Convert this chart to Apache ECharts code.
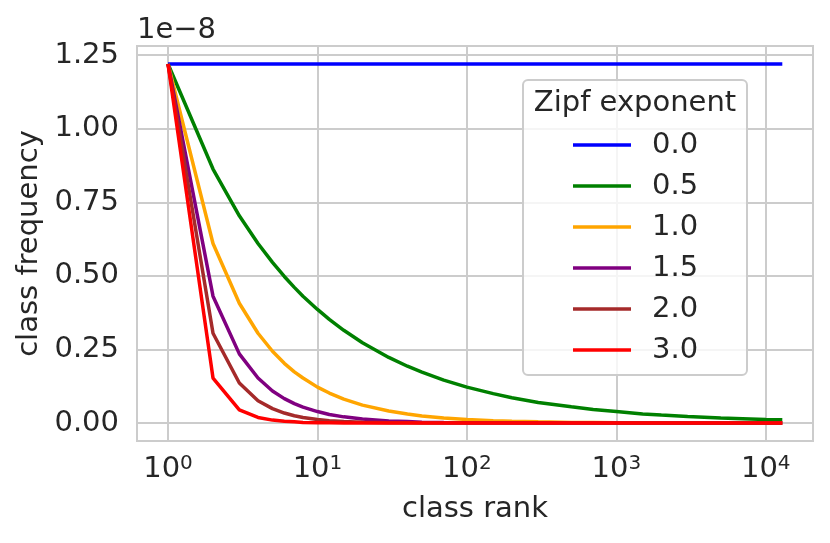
<!DOCTYPE html>
<html>
<head>
<meta charset="utf-8">
<script src="https://cdn.jsdelivr.net/npm/echarts@6/dist/echarts.min.js"></script>
<style>
html, body { margin: 0; padding: 0; background: #fff; }
#main { width: 830px; height: 543px; }
</style>
</head>
<body>
<div id="main"></div>
<script>
var myChart = echarts.init(document.getElementById('main'));

// class rank (x, log axis)
var ranks = [1, 2, 3, 4, 5, 6, 7, 8, 10, 12, 15, 20, 30, 40, 50, 70, 100, 150, 200, 300,
             500, 700, 1000, 1500, 2000, 3000, 5000, 7000, 10000, 12900];
// class frequency, in units of 1e-8 (one array per Zipf exponent)
var exp00 = [1.22, 1.22, 1.22, 1.22, 1.22, 1.22, 1.22, 1.22, 1.22, 1.22, 1.22, 1.22, 1.22, 1.22, 1.22,
             1.22, 1.22, 1.22, 1.22, 1.22, 1.22, 1.22, 1.22, 1.22, 1.22, 1.22, 1.22, 1.22, 1.22, 1.22];
var exp05 = [1.22, 0.863, 0.704, 0.61, 0.546, 0.498, 0.461, 0.431, 0.386, 0.352, 0.315, 0.273, 0.223, 0.193, 0.173,
             0.146, 0.122, 0.1, 0.086, 0.07, 0.055, 0.046, 0.039, 0.031, 0.027, 0.022, 0.017, 0.015, 0.012, 0.011];
var exp10 = [1.22, 0.61, 0.407, 0.305, 0.244, 0.203, 0.174, 0.153, 0.122, 0.102, 0.081, 0.061, 0.041, 0.031, 0.024,
             0.017, 0.012, 0.008, 0.006, 0.004, 0.002, 0.002, 0.001, 0.001, 0.001, 0, 0, 0, 0, 0];
var exp15 = [1.22, 0.431, 0.235, 0.153, 0.109, 0.083, 0.066, 0.054, 0.039, 0.029, 0.021, 0.014, 0.007, 0.005, 0.003,
             0.002, 0.001, 0.001, 0.001, 0, 0, 0, 0, 0, 0, 0, 0, 0, 0, 0];
var exp20 = [1.22, 0.305, 0.136, 0.076, 0.049, 0.034, 0.025, 0.019, 0.012, 0.008, 0.005, 0.003, 0.001, 0.001, 0,
             0, 0, 0, 0, 0, 0, 0, 0, 0, 0, 0, 0, 0, 0, 0];
var exp30 = [1.22, 0.153, 0.045, 0.019, 0.01, 0.006, 0.004, 0.002, 0.001, 0.001, 0, 0, 0, 0, 0,
             0, 0, 0, 0, 0, 0, 0, 0, 0, 0, 0, 0, 0, 0, 0];

var names = ['0.0', '0.5', '1.0', '1.5', '2.0', '3.0'];
var colors = ['#0000ff', '#008000', '#ffa500', '#800080', '#a52a2a', '#ff0000'];
var values = [exp00, exp05, exp10, exp15, exp20, exp30];
var yTicks = [0, 0.25, 0.5, 0.75, 1.0, 1.25];

var font = 'DejaVu Sans';
var fs = 29;
var textColor = '#262626';
var gridColor = '#cccccc';

function pairs(v) {
    var out = [];
    for (var i = 0; i < ranks.length; i++) {
        out.push([ranks[i], v[i]]);
    }
    return out;
}

var series = [];
for (var i = 0; i < names.length; i++) {
    series.push({
        name: names[i],
        type: 'line',
        symbol: 'none',
        data: pairs(values[i]),
        lineStyle: { color: colors[i], width: 3.5 },
        itemStyle: { color: colors[i] },
        emphasis: { disabled: true },
        z: 2 + i
    });
}

var option = {
    animation: false,
    backgroundColor: '#ffffff',
    grid: {
        left: 137, right: 17, top: 46, bottom: 102,
        show: true, borderColor: gridColor, borderWidth: 2
    },
    xAxis: {
        type: 'log',
        logBase: 10,
        min: 0.62,
        max: 20700,
        name: 'class rank',
        nameLocation: 'middle',
        nameGap: 54,
        nameTextStyle: { fontSize: fs, color: textColor, fontFamily: font },
        axisLine: { show: false },
        axisTick: { show: false },
        splitLine: { show: true, lineStyle: { color: gridColor, width: 2 } },
        axisLabel: {
            showMinLabel: false,
            showMaxLabel: false,
            margin: 13,
            formatter: function (v) {
                var e = Math.round(Math.log(v) / Math.LN10);
                return '{b|10}{s|' + e + '}';
            },
            rich: {
                b: { fontSize: fs, fontFamily: font, color: textColor, lineHeight: 31 },
                s: { fontSize: 20, fontFamily: font, color: textColor, verticalAlign: 'top', lineHeight: 20 }
            }
        }
    },
    yAxis: {
        type: 'value',
        min: -0.061,
        max: 1.281,
        name: 'class frequency',
        nameLocation: 'middle',
        nameRotate: 90,
        nameGap: 92,
        nameTextStyle: { fontSize: fs, color: textColor, fontFamily: font },
        axisLine: { show: false },
        axisTick: { show: false, customValues: yTicks },
        splitLine: { show: true, lineStyle: { color: gridColor, width: 2 } },
        axisLabel: {
            customValues: yTicks,
            margin: 18,
            fontSize: fs,
            fontFamily: font,
            color: textColor,
            formatter: function (v) { return v.toFixed(2); }
        }
    },
    legend: {
        orient: 'vertical',
        left: 573,
        top: 130,
        padding: 0,
        itemWidth: 58,
        itemHeight: 3.5,
        itemGap: 11,
        icon: 'rect',
        z: 20,
        data: names,
        textStyle: { fontSize: fs, fontFamily: font, color: textColor, lineHeight: 30, padding: [0, 0, 0, 16] }
    },
    graphic: [
        {
            type: 'rect',
            z: 15,
            shape: { x: 523, y: 80, width: 224, height: 295, r: 5 },
            style: { fill: 'rgba(255,255,255,0.8)', stroke: gridColor, lineWidth: 2 }
        },
        {
            type: 'text',
            z: 20,
            x: 635, y: 103,
            style: {
                text: 'Zipf exponent', fontSize: fs, fontFamily: font, fill: textColor,
                align: 'center', verticalAlign: 'middle'
            }
        },
        {
            type: 'text',
            z: 20,
            x: 137, y: 30,
            style: {
                text: '1e\u22128', fontSize: fs, fontFamily: font, fill: textColor,
                align: 'left', verticalAlign: 'middle'
            }
        }
    ],
    series: series
};

myChart.setOption(option);
</script>
</body>
</html>
